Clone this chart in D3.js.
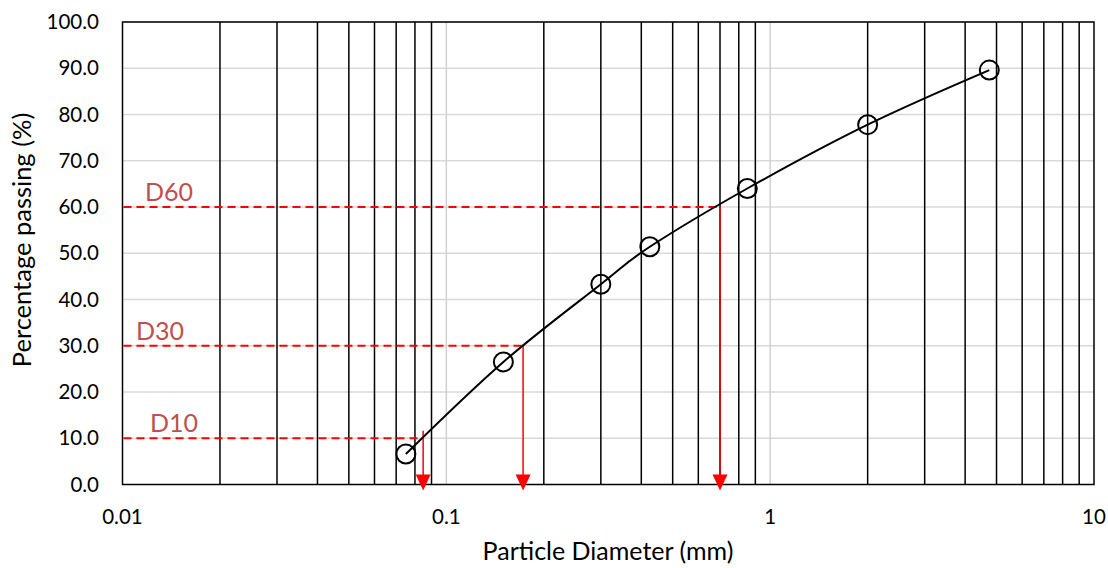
<!DOCTYPE html>
<html>
<head>
<meta charset="utf-8">
<script src="https://cdn.jsdelivr.net/npm/d3@7"></script>
<style>
  body { margin: 0; background: #fff; }
  svg text { font-family: Lato, "Open Sans", sans-serif; fill: #000; }
</style>
</head>
<body>
<div class="wrapper"></div>
<script>
// sieve data
var diameters = [0.075, 0.15, 0.3, 0.425, 0.85, 2.0, 4.75];
var passing = [6.6, 26.5, 43.3, 51.4, 64.0, 77.8, 89.6];

// characteristic diameters
var dLabels = ["D10", "D30", "D60"];
var dPercents = [10, 30, 60];
var dDiameters = [0.0848, 0.1726, 0.70];
var dArrowTops = [11.6, 30, 60];

var xTickLabels = [0.01, 0.1, 1, 10];
var yTickValues = [0, 10, 20, 30, 40, 50, 60, 70, 80, 90, 100];

var width = 1108, height = 568;
var plot = { left: 122.5, right: 1094, top: 22, bottom: 484.5 };

var svg = d3.select(".wrapper").append("svg")
  .attr("width", width)
  .attr("height", height);

var x = d3.scaleLog().domain([0.01, 10]).range([plot.left, plot.right]);
var y = d3.scaleLinear().domain([0, 100]).range([plot.bottom, plot.top]);

var isMajor = function(v) {
  return Math.abs(Math.log10(v) - Math.round(Math.log10(v))) < 1e-9;
};

// horizontal gridlines
svg.append("g").selectAll("line")
  .data(yTickValues.slice(1))
  .enter().append("line")
  .attr("x1", plot.left).attr("x2", plot.right)
  .attr("y1", d => y(d)).attr("y2", d => y(d))
  .attr("stroke", "#d9d9d9").attr("stroke-width", 1.5);

// vertical gridlines: major light gray, minor black
var logTicks = x.ticks().filter(v => v > 0.01 && v < 10);
svg.append("g").selectAll("line")
  .data(logTicks)
  .enter().append("line")
  .attr("x1", d => x(d)).attr("x2", d => x(d))
  .attr("y1", plot.top).attr("y2", plot.bottom)
  .attr("stroke", d => isMajor(d) ? "#d0d0d0" : "#000")
  .attr("stroke-width", 1.5);

// plot border
svg.append("rect")
  .attr("x", plot.left).attr("y", plot.top)
  .attr("width", plot.right - plot.left)
  .attr("height", plot.bottom - plot.top)
  .attr("fill", "none").attr("stroke", "#000").attr("stroke-width", 1.5);

// y tick labels
svg.append("g").selectAll("text")
  .data(yTickValues)
  .enter().append("text")
  .attr("x", 99)
  .attr("y", d => y(d))
  .attr("dy", "0.35em")
  .attr("text-anchor", "end")
  .style("font-size", "20.5px")
  .text(d => d.toFixed(1));

// x tick labels
svg.append("g").selectAll("text")
  .data(xTickLabels)
  .enter().append("text")
  .attr("x", d => x(d))
  .attr("y", 517)
  .attr("dy", "0.35em")
  .attr("text-anchor", "middle")
  .style("font-size", "20.5px")
  .text(d => String(d));

// axis titles
svg.append("text")
  .attr("x", 608)
  .attr("y", 551)
  .attr("dy", "0.35em")
  .attr("text-anchor", "middle")
  .style("font-size", "25px")
  .text("Particle Diameter (mm)");

svg.append("text")
  .attr("transform", "translate(22,240) rotate(-90)")
  .attr("dy", "0.35em")
  .attr("text-anchor", "middle")
  .style("font-size", "25.5px")
  .text("Percentage passing (%)");

// D-value construction lines
var dData = dLabels.map((label, i) => ({
  label: label, pct: dPercents[i], dia: dDiameters[i], top: dArrowTops[i]
}));

var dG = svg.append("g");
dG.selectAll(".dash")
  .data(dData)
  .enter().append("line")
  .attr("class", "dash")
  .attr("x1", plot.left + 1).attr("x2", d => x(d.dia))
  .attr("y1", d => y(d.pct)).attr("y2", d => y(d.pct))
  .attr("stroke", "#ff0000").attr("stroke-width", 1.8)
  .attr("stroke-dasharray", "8,5");

dG.selectAll(".drop")
  .data(dData)
  .enter().append("line")
  .attr("class", "drop")
  .attr("x1", d => x(d.dia)).attr("x2", d => x(d.dia))
  .attr("y1", d => y(d.top)).attr("y2", plot.bottom - 8)
  .attr("stroke", "#ff0000").attr("stroke-width", 1.5);

dG.selectAll(".head")
  .data(dData)
  .enter().append("path")
  .attr("class", "head")
  .attr("d", d => {
    var cx = x(d.dia), tip = plot.bottom + 6;
    return "M" + (cx - 7.5) + "," + (tip - 16) + "L" + (cx + 7.5) + "," + (tip - 16) + "L" + cx + "," + tip + "Z";
  })
  .attr("fill", "#ff0000");

var labelX = [150, 136, 145];
dG.selectAll(".dlabel")
  .data(dData)
  .enter().append("text")
  .attr("class", "dlabel")
  .attr("x", (d, i) => labelX[i])
  .attr("y", d => y(d.pct) - 6)
  .style("font-size", "25px")
  .style("fill", "#c0504d")
  .text(d => d.label);

// gradation curve
var points = diameters.map((d, i) => [x(d), y(passing[i])]);
svg.append("path")
  .datum(points)
  .attr("d", d3.line().curve(d3.curveCatmullRom.alpha(0)))
  .attr("fill", "none")
  .attr("stroke", "#000")
  .attr("stroke-width", 2);

svg.append("g").selectAll("circle")
  .data(points)
  .enter().append("circle")
  .attr("cx", d => d[0]).attr("cy", d => d[1])
  .attr("r", 9.5)
  .attr("fill", "none")
  .attr("stroke", "#000")
  .attr("stroke-width", 2);
</script>
</body>
</html>
